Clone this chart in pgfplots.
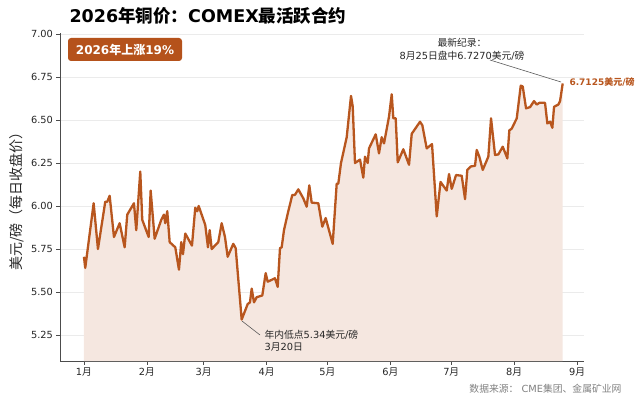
\documentclass[border=0pt]{standalone}
\usepackage{fontspec}
\setmainfont{DejaVu Sans}
\newfontfamily\cjk{Noto Sans CJK SC}
\usepackage{pgfplots}
\usepackage{pgfplotstable}
\pgfplotsset{compat=1.18}
\definecolor{cu}{HTML}{B8561E}
\definecolor{cufill}{HTML}{F5E7E0}
\definecolor{badge}{HTML}{B5521B}
\pgfplotstableread{
d v
0 5.705
0.64 5.64
4.78 6.016
6.90 5.75
10.50 6.025
11.48 6.025
12.67 6.06
14.79 5.82
17.59 5.90
20.06 5.76
21.34 5.95
24.64 6.016
25.78 5.86
27.75 6.20
28.73 5.92
31.89 5.82
32.87 6.09
34.84 5.81
38.10 5.92
39.43 5.95
40.07 5.90
41.05 5.97
42.24 5.79
45.00 5.76
46.82 5.63
47.95 5.79
48.79 5.72
49.93 5.84
53.23 5.77
54.85 5.99
55.84 5.97
56.53 6.00
59.78 5.89
61.11 5.76
61.95 5.86
62.94 5.75
66.19 5.79
67.87 5.90
69.49 5.82
70.82 5.705
73.58 5.78
74.77 5.755
77.72 5.34
80.68 5.43
81.81 5.44
82.65 5.52
83.79 5.44
85.12 5.47
87.88 5.48
89.55 5.61
90.54 5.56
94.14 5.58
95.47 5.53
96.60 5.755
97.44 5.76
98.57 5.86
100.69 5.97
102.66 6.064
103.99 6.065
105.62 6.097
108.08 6.045
109.76 5.996
111.04 6.12
112.22 6.02
115.48 6.016
117.45 5.88
119.12 5.93
122.57 5.78
124.54 6.13
125.33 6.13
126.66 6.25
129.47 6.40
131.59 6.64
132.43 6.58
133.56 6.25
136.03 6.27
137.65 6.165
138.49 6.287
139.82 6.25
140.46 6.335
143.77 6.417
145.39 6.306
146.72 6.40
147.86 6.364
150.32 6.52
151.65 6.65
152.44 6.51
153.62 6.51
154.61 6.254
157.37 6.33
160.18 6.24
161.51 6.42
165.60 6.49
166.73 6.47
168.90 6.335
171.51 6.36
173.83 5.94
175.70 6.14
178.75 6.09
179.89 6.186
181.22 6.10
183.34 6.18
186.15 6.176
187.78 6.04
188.91 6.21
190.59 6.23
192.71 6.234
193.54 6.326
194.83 6.287
196.50 6.21
199.26 6.287
200.59 6.51
202.56 6.297
204.19 6.30
206.36 6.345
208.62 6.277
209.61 6.44
210.79 6.45
213.26 6.51
215.23 6.70
216.21 6.695
217.84 6.568
219.81 6.575
221.78 6.61
223.11 6.59
224.39 6.60
227.20 6.60
228.34 6.48
229.67 6.49
230.80 6.455
231.64 6.577
233.76 6.59
234.60 6.61
235.90 6.7125
}\copper
\begin{document}
\begin{tikzpicture}[x=1pt,y=1pt]
\useasboundingbox (0,0) rectangle (640,400);
\begin{axis}[
  at={(60pt,39pt)}, anchor=south west,
  scale only axis, width=524pt, height=328pt,
  xmin=-11.8, xmax=246.4, ymin=5.099, ymax=7.006,
  axis lines*=left,
  axis line style={draw=black!70, line width=0.8pt},
  xtick={0,31,59,90,120,151,181,212,243},
  xticklabels={1{\cjk 月},2{\cjk 月},3{\cjk 月},4{\cjk 月},5{\cjk 月},6{\cjk 月},7{\cjk 月},8{\cjk 月},9{\cjk 月}},
  ytick={5.25,5.5,5.75,6,6.25,6.5,6.75,7},
  yticklabel style={/pgf/number format/.cd, fixed, fixed zerofill, precision=2},
  /pgf/number format/assume math mode=true,
  tick style={draw=black!70, line width=0.6pt},
  tick align=outside, major tick length=3.5pt,
  ticklabel style={font=\fontsize{9.8}{11}\selectfont, text=black!85},
  ymajorgrids, grid style={draw=black!8, line width=0.7pt},
  clip=false,
]
\addplot[fill=cufill, draw=none] table[x=d,y=v]{\copper} \closedcycle;
\addplot[cu, line width=2.3pt, line join=round, no marks] table[x=d,y=v]{\copper};
\end{axis}
% title
\node[anchor=west, font=\fontsize{17.5}{20}\selectfont\bfseries] at (66,384) {2026{\cjk 年铜价：}COMEX{\cjk 最活跃合约}};
% badge
\node[fill=badge, rounded corners=3pt, text=white, font=\fontsize{12}{14}\selectfont\bfseries, minimum width=114pt, minimum height=23pt, inner sep=2pt] at (125,350.5) {2026{\cjk 年上涨}19\%};
% y label
\node[rotate=90, font=\fontsize{14}{16}\selectfont\cjk, text=black!85] at (17,202) {美元/磅（每日收盘价）};
% latest record
\node[align=center, font=\fontsize{9.8}{12.5}\selectfont, text=black!85] at (462,350.5) {{\cjk 最新纪录：}\\8{\cjk 月}25{\cjk 日盘中}6.7270{\cjk 美元}/{\cjk 磅}};
\draw[black!65, line width=0.6pt] (490,340) -- (561,318);
\node[anchor=west, font=\fontsize{9}{11}\selectfont\bfseries, text=cu] at (566,318) {6.7125{\cjk 美元}/{\cjk 磅}};
% low
\draw[black!65, line width=0.6pt] (242,79) -- (260,65);
\node[anchor=west, align=left, font=\fontsize{9.8}{11.8}\selectfont, text=black!85] at (261,59.5) {{\cjk 年内低点}5.34{\cjk 美元}/{\cjk 磅}\\3{\cjk 月}20{\cjk 日}};
% source
\node[anchor=east, font=\fontsize{9.8}{11}\selectfont, text=black!50] at (625,11) {{\cjk 数据来源：} CME{\cjk 集团、金属矿业网}};
\end{tikzpicture}
\end{document}
